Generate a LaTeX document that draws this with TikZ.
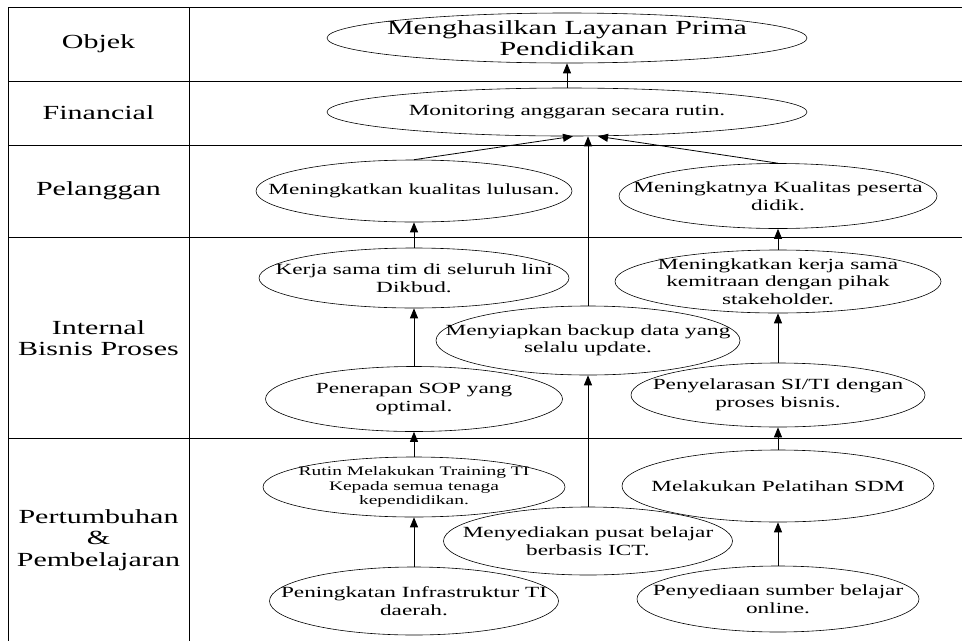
\documentclass[tikz,border=0pt]{standalone}
\usepackage{fontspec}
\setmainfont{Liberation Serif}[FakeStretch=1.5]
\usepackage{tikz}
\usetikzlibrary{positioning,shapes.geometric,arrows.meta}

\tikzset{
  goal/.style 2 args={draw, ellipse, line width=0.6pt, inner sep=0pt,
                      minimum width=#1, minimum height=#2},
  goaltext/.style={align=center, inner sep=0pt, font=\fontsize{15.5}{17.5}\selectfont},
  smalltext/.style={goaltext, font=\fontsize{13}{14.5}\selectfont},
  bigtext/.style={goaltext, font=\fontsize{20}{21.5}\selectfont},
  perspective/.style={align=center, font=\fontsize{20}{21.5}\selectfont},
  tableline/.style={line width=1pt},
}

\begin{document}
\begin{tikzpicture}[x=1pt,y=-1pt,on grid,line width=0.8pt,
                    >={Triangle[length=10pt,width=8pt]}]
  \useasboundingbox (0,0) rectangle (962,641);
  \foreach \y in {7,81,145,237,438}
    \draw[tableline] (8,\y) -- (962,\y);
  \draw[tableline] (8,7) -- (8,641) (189,7) -- (189,641);

  \node[perspective]  (objek)	at (98.5,44)	{Objek};
  \node[perspective]  (fin)	at (98.5,113)	{Financial};
  \node[perspective]  (plg)	at (98.5,191)	{Pelanggan};
  \node[perspective]  (ibp)	at (98.5,338)	{Internal\\Bisnis Proses};
  \node[perspective]  (pp)	at (98.5,540)	{Pertumbuhan\\\&\\Pembelajaran};

  \node[goal={480pt}{48pt}, label={[goaltext]center:Monitoring anggaran secara rutin.}]
        (monitoring) at (567,112) {};
  \node[goal={480pt}{50pt}, label={[bigtext]center:Menghasilkan Layanan Prima\\Pendidikan}]
        (prima) [above=74pt of monitoring] {};

  \node[goal={289pt}{68pt}, label={[goaltext]center:Peningkatan Infrastruktur TI\\daerah.}]
        (infra) at (414,601) {};
  \node[goal={302pt}{60pt}, label={[smalltext]center:Rutin Melakukan Training TI\\Kepada semua tenaga\\kependidikan.}]
        (rutin) [above=114pt of infra] {};
  \node[goal={297pt}{65pt}, label={[goaltext]center:Penerapan SOP yang\\optimal.}]
        (sop) [above=88pt of rutin] {};
  \node[goal={310pt}{60pt}, label={[goaltext]center:Kerja sama tim di seluruh lini\\Dikbud.}]
        (tim) [above=121pt of sop] {};
  \node[goal={316pt}{62pt}, label={[goaltext]center:Meningkatkan kualitas lulusan.}]
        (lulusan) [above=87pt of tim] {};

  \node[goal={289pt}{68pt}, label={[goaltext]center:Menyediakan pusat belajar\\berbasis ICT.}]
        (ict) at (588,541) {};
  \node[goal={304pt}{69pt}, label={[goaltext]center:Menyiapkan backup data yang\\selalu update.}]
        (backup) [above=200.5pt of ict] {};

  \node[goal={282pt}{66pt}, label={[goaltext]center:Penyediaan sumber belajar\\online.}]
        (online) at (778,599) {};
  \node[goal={312pt}{72pt}, label={[goaltext]center:Melakukan Pelatihan SDM}]
        (sdm) [above=113pt of online] {};
  \node[goal={294pt}{64pt}, label={[goaltext]center:Penyelarasan SI/TI dengan\\proses bisnis.}]
        (sisti) [above=91pt of sdm] {};
  \node[goal={326pt}{63pt}, label={[goaltext]center:Meningkatkan kerja sama\\kemitraan dengan pihak\\stakeholder.}]
        (mitra) [above=113.5pt of sisti] {};
  \node[goal={318pt}{65pt}, label={[goaltext]center:Meningkatnya Kualitas peserta\\didik.}]
        (peserta) [above=85.5pt of mitra] {};

  \path[->]
  (infra)	edge	(rutin)
  (rutin)	edge	(sop)
  (sop)		edge	(tim)
  (tim)		edge	(lulusan)
  (online)	edge	(sdm)
  (sdm)		edge	(sisti)
  (sisti)	edge	(mitra)
  (mitra)	edge	(peserta)
  (ict)		edge	(backup)
  (monitoring)	edge	(prima);
  \draw[->] (lulusan.north) -- ([xshift=6pt]monitoring.south);
  \draw[->] (backup.north) -- (backup.north |- monitoring.south);
  \draw[->] (peserta.north) -- ([xshift=31pt]monitoring.south);
\end{tikzpicture}
\end{document}
